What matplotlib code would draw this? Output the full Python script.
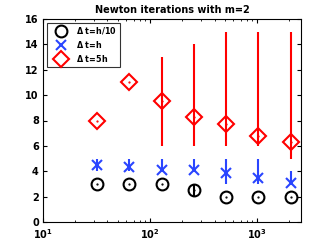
import numpy as np
import matplotlib.pyplot as plt
from matplotlib.lines import Line2D

N = [32, 64, 128, 256, 512, 1024, 2048]

# dt = h/10
it1 = [3, 3, 3, 2.5, 2, 2, 2]
lo1 = [3, 3, 3, 2, 2, 2, 2]
hi1 = [3, 3, 3, 3, 2, 2, 2]

# dt = h
it2 = [4.5, 4.3, 4.1, 4.1, 3.9, 3.5, 3.1]
lo2 = [4, 4, 4, 4, 3, 3, 3]
hi2 = [5, 5, 5, 5, 5, 5, 4]

# dt = 5h
it3 = [8, 11, 9.5, 8.25, 7.7, 6.8, 6.3]
lo3 = [8, 11, 6, 6, 6, 6, 5]
hi3 = [8, 11, 13, 14, 15, 15, 15]

labels = ['$\\Delta$ t=h/10', '$\\Delta$ t=h', '$\\Delta$ t=5h']

plt.rcParams['font.weight'] = 'bold'
plt.rcParams['mathtext.default'] = 'regular'

fig = plt.figure(figsize=(3.32, 2.5), dpi=100)
ax = fig.add_axes([0.1295, 0.112, 0.777, 0.812])

blue = '#2a45ff'

def draw(y, lo, hi, color, marker, ms):
    y = np.array(y)
    err = [y - np.array(lo), np.array(hi) - y]
    ax.errorbar(N, y, yerr=err, fmt='none', ecolor=color, elinewidth=1.5, capsize=0)
    ax.plot(N, y, linestyle='none', marker=marker, ms=ms, mec=color, mfc='none', mew=1.5)
    ax.plot(N, y, linestyle='none', marker='.', ms=1.2, color=color)

draw(it1, lo1, hi1, 'k', 'o', 8.5)
draw(it2, lo2, hi2, blue, 'x', 6.5)
draw(it3, lo3, hi3, 'r', 'D', 8)

ax.set_xscale('log')
ax.set_xlim(10, 2560)
ax.set_ylim(0, 16)
ax.set_yticks(range(0, 17, 2))
ax.tick_params(which='both', direction='in', top=True, right=True, labelsize=7)
ax.tick_params(axis='y', pad=3)
ax.tick_params(axis='x', pad=4)
ax.tick_params(which='major', length=3)
ax.tick_params(which='minor', length=1.5)
for s in ax.spines.values():
    s.set_linewidth(0.8)
ax.set_title('Newton iterations with m=2', fontsize=7, fontweight='bold', pad=4)

handles = [Line2D([], [], linestyle='none', marker='o', ms=8.5, mec='k', mfc='none', mew=1.5),
           Line2D([], [], linestyle='none', marker='x', ms=6.5, mec=blue, mew=1.5),
           Line2D([], [], linestyle='none', marker='D', ms=8, mec='r', mfc='none', mew=1.5)]
leg = ax.legend(handles, labels, loc='upper left', fontsize=5.8, frameon=True, fancybox=False,
                edgecolor='k', borderaxespad=0.45, handletextpad=0.5, labelspacing=0.35,
                borderpad=0.35, handlelength=2.8)
leg.get_frame().set_linewidth(0.8)

fig.savefig('out.png', dpi=100)
